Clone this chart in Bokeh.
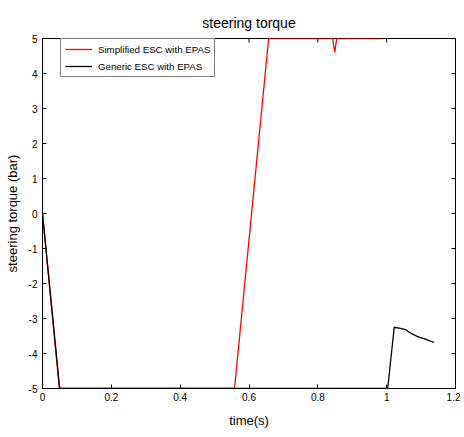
from bokeh.plotting import figure
from bokeh.models import FixedTicker, CustomJSTickFormatter, Range1d, Legend, LegendItem
from bokeh.embed import file_html
from bokeh.resources import INLINE

# data
simplified_t = [0.0, 0.049, 0.558, 0.657, 0.843, 0.849, 0.855, 0.986]
simplified_y = [0.0, -5.0, -5.0, 5.0, 5.0, 4.6, 5.0, 5.0]
generic_t = [0.0, 0.05, 1.003, 1.022, 1.04, 1.055, 1.07, 1.09, 1.11, 1.137]
generic_y = [0.0, -5.0, -5.0, -3.25, -3.28, -3.32, -3.42, -3.52, -3.58, -3.68]
x_ticks = [0, 0.2, 0.4, 0.6, 0.8, 1.0, 1.2]
y_ticks = [-5, -4, -3, -2, -1, 0, 1, 2, 3, 4, 5]
x_min, x_max = 0.0, 1.2
y_min, y_max = -5.0, 5.0

FONT = "Liberation Sans"
FW, FH = 413, 350

p = figure(output_backend="svg", toolbar_location=None,
           frame_width=FW, frame_height=FH,
           x_range=Range1d(x_min, x_max), y_range=Range1d(y_min, y_max),
           title="steering torque")
p.margin = (4, 0, 0, 1)
p.title.align = "center"
p.title.text_font = FONT
p.title.text_font_size = "14px"
p.title.text_font_style = "normal"
p.title.text_color = "black"
p.title.standoff = 16

p.xgrid.visible = False
p.ygrid.visible = False
p.outline_line_color = "black"
p.outline_line_width = 1

fmt = CustomJSTickFormatter(code="return (Math.round(tick*10)/10).toString();")

for ax, ticks in ((p.xaxis[0], x_ticks), (p.yaxis[0], y_ticks)):
    ax.ticker = FixedTicker(ticks=ticks)
    ax.formatter = fmt
    ax.major_tick_in = 4
    ax.major_tick_out = 0
    ax.minor_tick_line_color = None
    ax.axis_line_color = "black"
    ax.major_tick_line_color = "black"
    ax.major_label_text_font = FONT
    ax.major_label_text_font_size = "10px"
    ax.major_label_text_color = "black"
    ax.axis_label_text_font = FONT
    ax.axis_label_text_font_size = "13px"
    ax.axis_label_text_font_style = "normal"
    ax.axis_label_text_color = "black"

p.xaxis.axis_label = "time(s)"
p.yaxis.axis_label = "steering torque (bar)"
p.xaxis.major_label_standoff = 4
p.xaxis.axis_label_standoff = 9
p.yaxis.major_label_standoff = 5
p.yaxis.axis_label_standoff = 6

# inward ticks on the top and right edges of the box (MATLAB style)
tick_len_y = 4 * (y_max - y_min) / FH
tick_len_x = 4 * (x_max - x_min) / FW
p.segment(x0=x_ticks, y0=[y_max] * len(x_ticks), x1=x_ticks, y1=[y_max - tick_len_y] * len(x_ticks),
          line_color="black", line_width=1)
p.segment(x0=[x_max] * len(y_ticks), y0=y_ticks, x1=[x_max - tick_len_x] * len(y_ticks), y1=y_ticks,
          line_color="black", line_width=1)

r1 = p.line(simplified_t, simplified_y, line_color="red", line_width=1.3)
r2 = p.line(generic_t, generic_y, line_color="black", line_width=1.3)

legend = Legend(items=[LegendItem(label="Simplified ESC with EPAS", renderers=[r1]),
                       LegendItem(label="Generic ESC with EPAS", renderers=[r2])],
                location=(18, FH - 39))
legend.label_text_font = FONT
legend.label_text_font_size = "9.7px"
legend.label_text_color = "black"
legend.border_line_color = "black"
legend.border_line_width = 1
legend.margin = 0
legend.padding = 4
legend.spacing = 5
legend.glyph_width = 27
legend.glyph_height = 12
legend.label_height = 12
legend.label_width = 108
legend.label_standoff = 6
p.add_layout(legend, "center")

open("out.html", "w").write(file_html(p, INLINE))
